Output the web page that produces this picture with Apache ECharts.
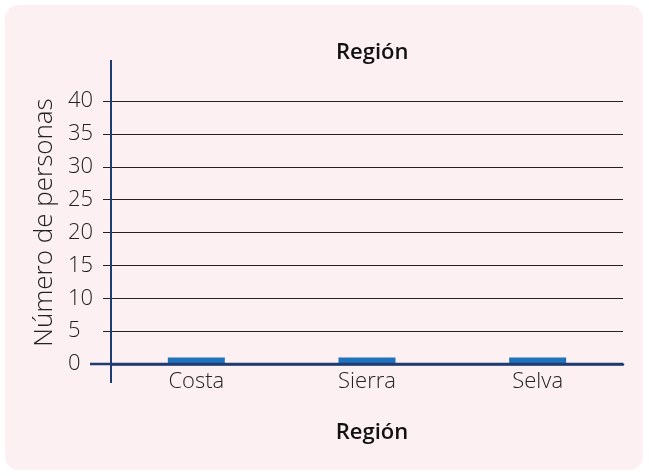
<!DOCTYPE html>
<html lang="es">
<head>
    <meta charset="UTF-8">
    <title>Región</title>
    <script src="https://cdn.jsdelivr.net/npm/echarts@6/dist/echarts.min.js"></script>
    <style>
        html, body { margin: 0; padding: 0; background: #fff; }
        #chart { width: 649px; height: 476px; }
    </style>
</head>
<body>
<div id="chart"></div>
<script type="text/javascript">
	// datos
	var regiones = ['Costa', 'Sierra', 'Selva'];
	var personas = [1, 1, 1];
	var yMin = 0, yMax = 40, yPaso = 5;

	var chart = echarts.init(document.getElementById('chart'));
	var font = "'Open Sans', 'Noto Sans', sans-serif";

	var option = {
		backgroundColor: '#ffffff',
		textStyle: { fontFamily: font },
		// tarjeta rosada y prolongaciones de los ejes
		graphic: [
			{
				type: 'rect', z: -10, silent: true,
				shape: { x: 5, y: 5, width: 638, height: 465, r: 14 },
				style: { fill: '#fcf0f2' }
			},
			{
				type: 'line', z: 10, silent: true,
				shape: { x1: 111, y1: 60, x2: 111, y2: 383 },
				style: { stroke: '#1f3b6f', lineWidth: 2 }
			},
			{
				type: 'line', z: 10, silent: true,
				shape: { x1: 90, y1: 364, x2: 623, y2: 364 },
				style: { stroke: '#1f3b6f', lineWidth: 2.5 }
			}
		],
		title: {
			text: 'Región',
			left: 331,
			top: 37,
			textStyle: { fontFamily: font, fontSize: 22, fontWeight: 600, color: '#111' }
		},
		grid: { left: 111, right: 26, top: 101, bottom: 112 },
		xAxis: {
			type: 'category',
			data: regiones,
			name: 'Región',
			nameLocation: 'middle',
			nameGap: 58,
			nameTextStyle: { fontFamily: font, fontSize: 22, fontWeight: 600, color: '#111', padding: [0, 0, 0, 10] },
			axisLine: { lineStyle: { color: '#1f3b6f', width: 2.5 } },
			axisTick: { show: false },
			axisLabel: { fontSize: 22, fontWeight: 300, color: '#222', margin: 7 }
		},
		yAxis: {
			type: 'value',
			min: yMin,
			max: yMax,
			interval: yPaso,
			name: 'Número de personas',
			nameLocation: 'middle',
			nameGap: 52,
			nameTextStyle: { fontFamily: font, fontSize: 26, fontWeight: 300, color: '#222', padding: [0, 0, 0, 20] },
			axisLine: { show: true, lineStyle: { color: '#1f3b6f', width: 2 } },
			axisTick: { show: true, length: 8, lineStyle: { color: '#222', width: 1 } },
			axisLabel: { fontSize: 22, fontWeight: 300, color: '#222', margin: 43, align: 'left', padding: [0, 0, 9, 0] },
			splitLine: { show: true, lineStyle: { color: '#222', width: 1 } }
		},
		series: [
			{
				type: 'bar',
				data: personas,
				barWidth: 57,
				itemStyle: { color: '#1f73bd' }
			}
		]
	};
	chart.setOption(option);
</script>
</body>
</html>
